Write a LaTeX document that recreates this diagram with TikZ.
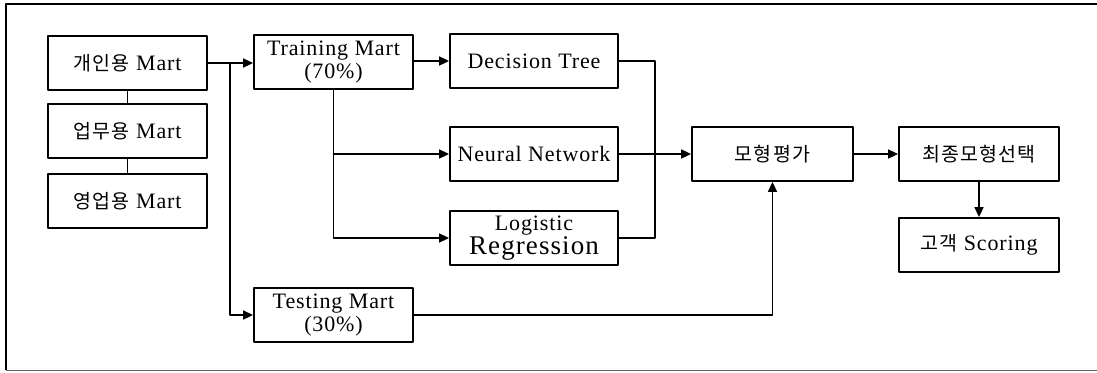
\documentclass[tikz,border=0pt]{standalone}
\usepackage{fontspec}
\setmainfont[LetterSpace=4]{Liberation Serif}
\newfontfamily\krfont[LetterSpace=6]{Noto Sans CJK KR}
\usetikzlibrary{arrows.meta}
\newcommand{\kr}[1]{{\krfont\fontsize{19.5}{22}\selectfont #1}}
\begin{document}
\begin{tikzpicture}[x=1pt, y=-1pt, >={Triangle[length=10pt,width=9pt]}, line join=round,
	box/.style={draw, line width=1.8pt, minimum width=159pt, minimum height=54pt,
		inner sep=0pt, align=center, font=\fontsize{22}{23}\selectfont},
	link/.style={line width=1.6pt},
	thin link/.style={line width=1.2pt}]
	\useasboundingbox (0,0) rectangle (1097,372);
	% frame
	\draw[line width=1.6pt] (1097,4) -- (6,4) -- (6,370);
	\draw[line width=1pt, black!60] (6,370) -- (1097,370);
	% marts
	\node[box] (personal) at (127.5,63) {\kr{개인용} Mart};
	\node[box] (business) at (127.5,131) {\kr{업무용} Mart};
	\node[box] (sales) at (127.5,201) {\kr{영업용} Mart};
	\node[box] (train) at (333.5,62) {Training Mart\\(70\%)};
	\node[box] (test) at (333.5,315) {Testing Mart\\(30\%)};
	% models
	\node[box, minimum width=168pt] (tree) at (534,61) {Decision Tree};
	\node[box, minimum width=168pt] (neural) at (534,154) {Neural Network};
	\node[box, minimum width=168pt] (logit) at (534,238) {Logistic\\[1pt]{\fontsize{27}{27}\selectfont Regression}};
	% evaluation
	\node[box, minimum width=161pt] (eval) at (772.5,154) {\kr{모형평가}};
	\node[box, minimum width=160pt] (final) at (979,154) {\kr{최종모형선택}};
	\node[box, minimum width=160pt] (score) at (979,245) {\kr{고객} Scoring};
	\coordinate (split) at (230,63);
	\coordinate (merge) at (655,154);
	\draw[link] (personal) -- (business) -- (sales);
	\draw[link,->] (personal.east) -- (train.west |- personal.east);
	\draw[link,->] (split) |- (test.west);
	\draw[link,->] (train.east |- tree.west) -- (tree.west);
	\draw[link,->] (train.south) |- (neural.west);
	\draw[link,->] (train.south) |- (logit.west);
	\draw[thin link] (tree.east) -| (merge) |- (logit.east);
	\draw[link,->] (neural.east) -- (eval.west);
	\draw[link,->] (test.east) -| (eval.south);
	\draw[link,->] (eval.east) -- (final.west);
	\draw[link,->] (final.south) -- (score.north);
\end{tikzpicture}
\end{document}
